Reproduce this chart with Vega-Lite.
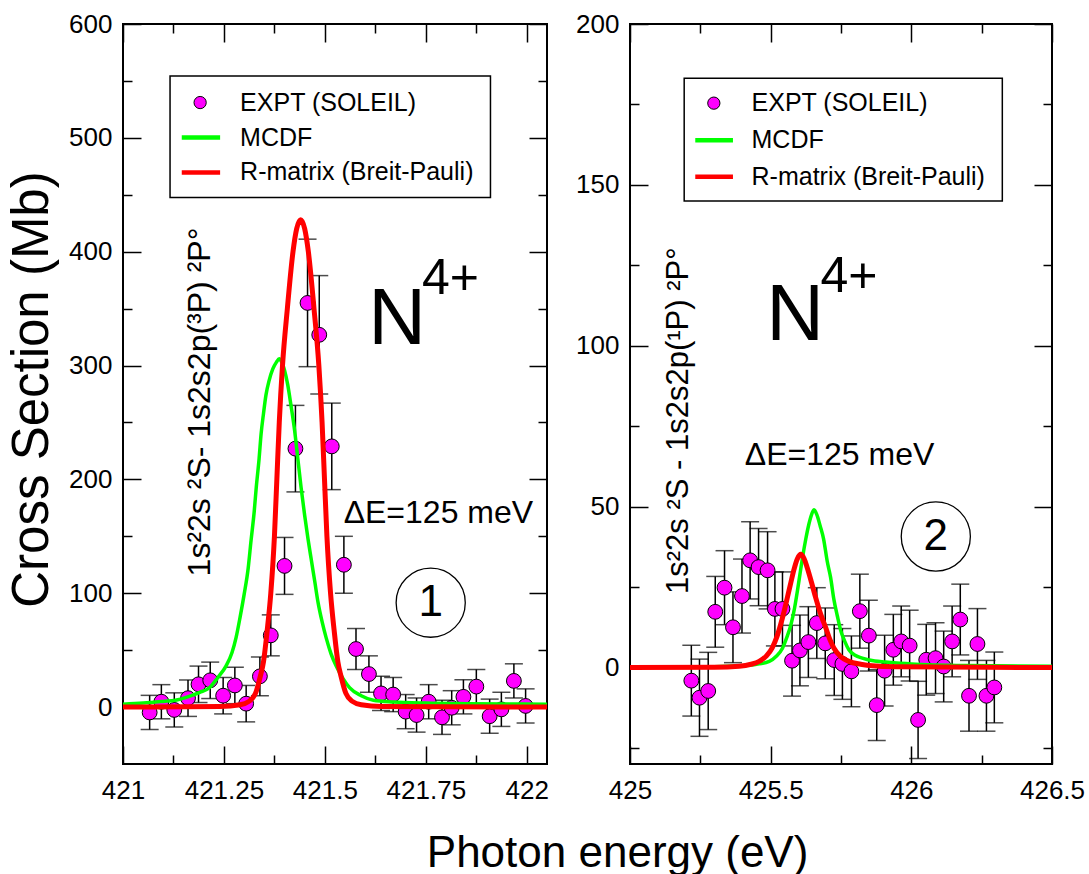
{
  "$schema": "https://vega.github.io/schema/vega-lite/v6.json",
  "padding": {"left": 5, "top": 10, "right": 5, "bottom": 5},
  "background": "white",
  "config": {
    "view": {"stroke": "black", "strokeWidth": 2},
    "font": "Liberation Sans",
    "axis": {"labelFont": "Liberation Sans", "labelFontSize": 26, "labelColor": "black", "tickColor": "black", "tickWidth": 1.5, "grid": false, "domain": false, "labelFlush": false, "titleFont": "Liberation Sans", "titleFontWeight": "normal", "titleColor": "black", "labelOverlap": false},
    "text": {"font": "Liberation Sans", "color": "black"},
    "title": {"font": "Liberation Sans", "fontWeight": "normal", "color": "black"}
  },
  "title": {"text": "Photon energy (eV)", "orient": "bottom", "anchor": "middle", "fontSize": 44, "offset": 28, "dx": 72},
  "datasets": {
    "Lx": [
      {"e": 421.066, "y": -4.7, "lo": -19.7, "hi": 10.3},
      {"e": 421.095, "y": 4.7, "lo": -10.3, "hi": 19.7},
      {"e": 421.127, "y": -2.5, "lo": -17.5, "hi": 12.5},
      {"e": 421.161, "y": 7.8, "lo": -8.2, "hi": 23.8},
      {"e": 421.187, "y": 20, "lo": 4, "hi": 36},
      {"e": 421.216, "y": 23.5, "lo": 7.5, "hi": 39.5},
      {"e": 421.248, "y": 10, "lo": -6, "hi": 26},
      {"e": 421.277, "y": 19, "lo": 3, "hi": 35},
      {"e": 421.305, "y": 3, "lo": -13, "hi": 19},
      {"e": 421.339, "y": 27, "lo": 10, "hi": 44},
      {"e": 421.366, "y": 63, "lo": 45, "hi": 81},
      {"e": 421.4, "y": 124, "lo": 99, "hi": 149},
      {"e": 421.427, "y": 227, "lo": 189, "hi": 265},
      {"e": 421.457, "y": 355, "lo": 299, "hi": 411},
      {"e": 421.486, "y": 327, "lo": 275, "hi": 379},
      {"e": 421.517, "y": 229, "lo": 191, "hi": 267},
      {"e": 421.547, "y": 125, "lo": 100, "hi": 150},
      {"e": 421.577, "y": 51, "lo": 33, "hi": 69},
      {"e": 421.609, "y": 29, "lo": 13, "hi": 45},
      {"e": 421.639, "y": 12, "lo": -3, "hi": 27},
      {"e": 421.669, "y": 11, "lo": -4, "hi": 26},
      {"e": 421.7, "y": -4, "lo": -19, "hi": 11},
      {"e": 421.727, "y": -7, "lo": -22, "hi": 8},
      {"e": 421.757, "y": 4.7, "lo": -10.3, "hi": 19.7},
      {"e": 421.79, "y": -9, "lo": -24, "hi": 6},
      {"e": 421.814, "y": -0.6, "lo": -15.6, "hi": 14.4},
      {"e": 421.843, "y": 9, "lo": -6, "hi": 24},
      {"e": 421.875, "y": 18, "lo": 3, "hi": 33},
      {"e": 421.908, "y": -8, "lo": -23, "hi": 7},
      {"e": 421.937, "y": -2, "lo": -17, "hi": 13},
      {"e": 421.968, "y": 23, "lo": 8, "hi": 38},
      {"e": 421.997, "y": 1, "lo": -14, "hi": 16}
    ],
    "Lg": [
      {"e": 421.0, "y": 2.5}, {"e": 421.05, "y": 3.5}, {"e": 421.1, "y": 5}, {"e": 421.13, "y": 6},
      {"e": 421.16, "y": 9}, {"e": 421.19, "y": 13}, {"e": 421.214, "y": 17}, {"e": 421.235, "y": 26},
      {"e": 421.255, "y": 36}, {"e": 421.27, "y": 48}, {"e": 421.28, "y": 61}, {"e": 421.29, "y": 79},
      {"e": 421.3, "y": 99}, {"e": 421.31, "y": 122}, {"e": 421.317, "y": 146}, {"e": 421.325, "y": 172},
      {"e": 421.33, "y": 193}, {"e": 421.337, "y": 218}, {"e": 421.342, "y": 240}, {"e": 421.348, "y": 258},
      {"e": 421.354, "y": 274}, {"e": 421.362, "y": 287}, {"e": 421.371, "y": 297}, {"e": 421.38, "y": 303},
      {"e": 421.387, "y": 306}, {"e": 421.393, "y": 303}, {"e": 421.4, "y": 296}, {"e": 421.408, "y": 283},
      {"e": 421.416, "y": 265}, {"e": 421.425, "y": 243}, {"e": 421.433, "y": 218}, {"e": 421.441, "y": 193},
      {"e": 421.45, "y": 168}, {"e": 421.458, "y": 148}, {"e": 421.466, "y": 130}, {"e": 421.475, "y": 110},
      {"e": 421.483, "y": 92}, {"e": 421.493, "y": 75}, {"e": 421.503, "y": 61}, {"e": 421.515, "y": 47},
      {"e": 421.528, "y": 36}, {"e": 421.545, "y": 25}, {"e": 421.561, "y": 17}, {"e": 421.59, "y": 10},
      {"e": 421.62, "y": 6}, {"e": 421.67, "y": 4.5}, {"e": 421.75, "y": 3.5}, {"e": 421.85, "y": 3},
      {"e": 422.05, "y": 2.5}
    ],
    "Lr": [
      {"e": 421.0, "y": 0}, {"e": 421.24, "y": 0.5}, {"e": 421.29, "y": 2}, {"e": 421.312, "y": 5},
      {"e": 421.328, "y": 12}, {"e": 421.34, "y": 27}, {"e": 421.348, "y": 40}, {"e": 421.357, "y": 67},
      {"e": 421.366, "y": 100}, {"e": 421.375, "y": 150}, {"e": 421.381, "y": 200}, {"e": 421.387, "y": 250},
      {"e": 421.395, "y": 300}, {"e": 421.407, "y": 350}, {"e": 421.421, "y": 400}, {"e": 421.43, "y": 420},
      {"e": 421.44, "y": 428}, {"e": 421.45, "y": 420}, {"e": 421.459, "y": 400}, {"e": 421.473, "y": 350},
      {"e": 421.485, "y": 300}, {"e": 421.493, "y": 250}, {"e": 421.499, "y": 200}, {"e": 421.505, "y": 150},
      {"e": 421.514, "y": 100}, {"e": 421.523, "y": 67}, {"e": 421.532, "y": 40}, {"e": 421.54, "y": 27},
      {"e": 421.552, "y": 12}, {"e": 421.568, "y": 5}, {"e": 421.59, "y": 2}, {"e": 421.64, "y": 0.5},
      {"e": 422.05, "y": 0}
    ],
    "Rx": [
      {"e": 425.218, "y": -4.1, "lo": -15.1, "hi": 6.9},
      {"e": 425.247, "y": -9.4, "lo": -21.4, "hi": 2.6},
      {"e": 425.278, "y": -7.3, "lo": -19.3, "hi": 4.7},
      {"e": 425.303, "y": 17.3, "lo": 6.3, "hi": 28.3},
      {"e": 425.336, "y": 24.8, "lo": 13.3, "hi": 36.3},
      {"e": 425.366, "y": 12.5, "lo": 1.5, "hi": 23.5},
      {"e": 425.398, "y": 22.2, "lo": 10.7, "hi": 33.7},
      {"e": 425.427, "y": 33.3, "lo": 21.3, "hi": 45.3},
      {"e": 425.457, "y": 31.2, "lo": 19.2, "hi": 43.2},
      {"e": 425.489, "y": 30.2, "lo": 18.2, "hi": 42.2},
      {"e": 425.515, "y": 18.2, "lo": 6.7, "hi": 29.7},
      {"e": 425.542, "y": 18.2, "lo": 6.7, "hi": 29.7},
      {"e": 425.576, "y": 2.1, "lo": -8.9, "hi": 13.1},
      {"e": 425.604, "y": 5.3, "lo": -5.7, "hi": 16.3},
      {"e": 425.634, "y": 7.9, "lo": -3.1, "hi": 18.9},
      {"e": 425.664, "y": 13.8, "lo": 2.8, "hi": 24.8},
      {"e": 425.694, "y": 7.5, "lo": -3.5, "hi": 18.5},
      {"e": 425.726, "y": 2.3, "lo": -8.7, "hi": 13.3},
      {"e": 425.755, "y": 1.1, "lo": -9.9, "hi": 12.1},
      {"e": 425.787, "y": -1.2, "lo": -12.2, "hi": 9.8},
      {"e": 425.817, "y": 17.5, "lo": 6, "hi": 29},
      {"e": 425.849, "y": 9.9, "lo": -1.1, "hi": 20.9},
      {"e": 425.877, "y": -11.7, "lo": -22.7, "hi": -0.7},
      {"e": 425.905, "y": -1.0, "lo": -12, "hi": 10},
      {"e": 425.936, "y": 5.5, "lo": -5.5, "hi": 16.5},
      {"e": 425.964, "y": 8.1, "lo": -2.9, "hi": 19.1},
      {"e": 425.994, "y": 6.8, "lo": -4.2, "hi": 17.8},
      {"e": 426.024, "y": -16.3, "lo": -28.3, "hi": -4.3},
      {"e": 426.053, "y": 2.4, "lo": -8.6, "hi": 13.4},
      {"e": 426.086, "y": 2.9, "lo": -8.1, "hi": 13.9},
      {"e": 426.115, "y": 0.3, "lo": -10.7, "hi": 11.3},
      {"e": 426.145, "y": 8.1, "lo": -2.9, "hi": 19.1},
      {"e": 426.174, "y": 14.9, "lo": 3.9, "hi": 25.9},
      {"e": 426.205, "y": -8.8, "lo": -19.8, "hi": 2.2},
      {"e": 426.235, "y": 7.3, "lo": -3.7, "hi": 18.3},
      {"e": 426.267, "y": -8.8, "lo": -19.8, "hi": 2.2},
      {"e": 426.295, "y": -6.2, "lo": -17.2, "hi": 4.8}
    ],
    "Rg": [
      {"e": 425.0, "y": 0}, {"e": 425.3, "y": 0.2}, {"e": 425.388, "y": 0.5}, {"e": 425.45, "y": 1},
      {"e": 425.495, "y": 1.9}, {"e": 425.52, "y": 3.5}, {"e": 425.542, "y": 6}, {"e": 425.558, "y": 9.5},
      {"e": 425.572, "y": 13.3}, {"e": 425.585, "y": 18.5}, {"e": 425.595, "y": 23.75}, {"e": 425.605, "y": 29.5},
      {"e": 425.613, "y": 34}, {"e": 425.625, "y": 40}, {"e": 425.636, "y": 44.6}, {"e": 425.646, "y": 47.7},
      {"e": 425.654, "y": 49}, {"e": 425.664, "y": 47.5}, {"e": 425.676, "y": 44}, {"e": 425.688, "y": 40},
      {"e": 425.701, "y": 33}, {"e": 425.713, "y": 28}, {"e": 425.725, "y": 21}, {"e": 425.737, "y": 16},
      {"e": 425.749, "y": 11.5}, {"e": 425.763, "y": 8.2}, {"e": 425.778, "y": 5.5}, {"e": 425.8, "y": 3.8},
      {"e": 425.8255, "y": 2.9}, {"e": 425.87, "y": 2}, {"e": 425.9085, "y": 1.7}, {"e": 426.0, "y": 1.1},
      {"e": 426.2, "y": 0.6}, {"e": 426.5, "y": 0.4}
    ],
    "Rr": [
      {"e": 425.0, "y": 0}, {"e": 425.3, "y": 0.1}, {"e": 425.388, "y": 0.4}, {"e": 425.43, "y": 1},
      {"e": 425.459, "y": 1.9}, {"e": 425.485, "y": 3.6}, {"e": 425.506, "y": 6.2}, {"e": 425.522, "y": 9.5},
      {"e": 425.536, "y": 13.5}, {"e": 425.548, "y": 17.5}, {"e": 425.56, "y": 22}, {"e": 425.572, "y": 26.5},
      {"e": 425.583, "y": 30.5}, {"e": 425.595, "y": 33.8}, {"e": 425.607, "y": 35.2}, {"e": 425.619, "y": 33.8},
      {"e": 425.63, "y": 31}, {"e": 425.645, "y": 26.5}, {"e": 425.66, "y": 21.7}, {"e": 425.678, "y": 16.5},
      {"e": 425.696, "y": 12.3}, {"e": 425.71, "y": 8.8}, {"e": 425.725, "y": 6}, {"e": 425.75, "y": 3.3},
      {"e": 425.778, "y": 1.9}, {"e": 425.82, "y": 1}, {"e": 425.849, "y": 0.6}, {"e": 425.95, "y": 0.2},
      {"e": 426.5, "y": 0}
    ]
  },
  "hconcat": [
    {
      "width": 424,
      "height": 740,
      "resolve": {"axis": {"x": "independent", "y": "independent"}},
      "layer": [
        {
          "data": {"name": "Lx"},
          "mark": {"type": "rule", "color": "black", "strokeWidth": 1.5},
          "encoding": {
            "x": {"field": "e", "type": "quantitative", "scale": {"domain": [421, 422.05], "nice": false, "zero": false},
                  "axis": {"orient": "bottom", "values": [421, 421.25, 421.5, 421.75, 422], "format": ".6~g", "tickSize": 18, "offset": -18, "labelPadding": 13, "title": null}},
            "y": {"field": "lo", "type": "quantitative", "scale": {"domain": [-50, 600], "nice": false, "zero": false},
                  "axis": {"orient": "left", "values": [0, 100, 200, 300, 400, 500, 600], "format": "d", "tickSize": 18, "offset": -18, "labelPadding": 11, "title": "Cross Section (Mb)", "titleFontSize": 51, "titlePadding": 10, "titleY": 365}},
            "y2": {"field": "hi"}
          }
        },
        {
          "data": {"name": "Lx"},
          "mark": {"type": "tick", "orient": "horizontal", "size": 18, "thickness": 1.5, "color": "black"},
          "encoding": {
            "x": {"field": "e", "type": "quantitative", "axis": null},
            "y": {"field": "lo", "type": "quantitative", "axis": null}
          }
        },
        {
          "data": {"name": "Lx"},
          "mark": {"type": "tick", "orient": "horizontal", "size": 18, "thickness": 1.5, "color": "black"},
          "encoding": {
            "x": {"field": "e", "type": "quantitative", "axis": null},
            "y": {"field": "hi", "type": "quantitative", "axis": null}
          }
        },
        {
          "data": {"name": "Lx"},
          "mark": {"type": "point", "shape": "circle", "filled": true, "fill": "#ff00ff", "stroke": "black", "strokeWidth": 1, "size": 220, "opacity": 1},
          "encoding": {
            "x": {"field": "e", "type": "quantitative",
                  "axis": {"orient": "top", "values": [421, 421.25, 421.5, 421.75, 422], "labels": false, "tickSize": 18, "offset": -18, "title": null}},
            "y": {"field": "y", "type": "quantitative",
                  "axis": {"orient": "right", "values": [0, 100, 200, 300, 400, 500, 600], "labels": false, "tickSize": 18, "offset": -18, "title": null}}
          }
        },
        {
          "data": {"name": "Lg"},
          "mark": {"type": "line", "color": "#00ff00", "strokeWidth": 3.5, "interpolate": "monotone"},
          "encoding": {
            "x": {"field": "e", "type": "quantitative",
                  "axis": {"orient": "bottom", "values": [421.125, 421.375, 421.625, 421.875], "labels": false, "tickSize": 9, "offset": -9, "title": null}},
            "y": {"field": "y", "type": "quantitative",
                  "axis": {"orient": "left", "values": [50, 150, 250, 350, 450, 550], "labels": false, "tickSize": 9, "offset": -9, "title": null}}
          }
        },
        {
          "data": {"name": "Lr"},
          "mark": {"type": "line", "color": "#ff0000", "strokeWidth": 5, "interpolate": "monotone"},
          "encoding": {
            "x": {"field": "e", "type": "quantitative",
                  "axis": {"orient": "top", "values": [421.125, 421.375, 421.625, 421.875], "labels": false, "tickSize": 9, "offset": -9, "title": null}},
            "y": {"field": "y", "type": "quantitative",
                  "axis": {"orient": "right", "values": [50, 150, 250, 350, 450, 550], "labels": false, "tickSize": 9, "offset": -9, "title": null}}
          }
        },
        {
          "data": {"values": [{"a": 421.1165, "b": 421.91, "c": 447.6, "d": 554.4}]},
          "mark": {"type": "rect", "fill": "white", "stroke": "black", "strokeWidth": 1.5},
          "encoding": {
            "x": {"field": "a", "type": "quantitative", "axis": null}, "x2": {"field": "b"},
            "y": {"field": "c", "type": "quantitative", "axis": null}, "y2": {"field": "d"}
          }
        },
        {
          "data": {"values": [{"e": 421.191, "y": 531}]},
          "mark": {"type": "point", "shape": "circle", "filled": true, "fill": "#ff00ff", "stroke": "black", "strokeWidth": 1, "size": 150, "opacity": 1},
          "encoding": {"x": {"field": "e", "type": "quantitative", "axis": null}, "y": {"field": "y", "type": "quantitative", "axis": null}}
        },
        {
          "data": {"values": [{"a": 421.1455, "b": 421.2405, "y": 500.3}]},
          "mark": {"type": "rule", "color": "#00ff00", "strokeWidth": 4.5},
          "encoding": {"x": {"field": "a", "type": "quantitative", "axis": null}, "x2": {"field": "b"}, "y": {"field": "y", "type": "quantitative", "axis": null}}
        },
        {
          "data": {"values": [{"a": 421.1455, "b": 421.2405, "y": 469.6}]},
          "mark": {"type": "rule", "color": "#ff0000", "strokeWidth": 4.5},
          "encoding": {"x": {"field": "a", "type": "quantitative", "axis": null}, "x2": {"field": "b"}, "y": {"field": "y", "type": "quantitative", "axis": null}}
        },
        {
          "data": {"values": [
            {"e": 421.29, "y": 531, "t": "EXPT (SOLEIL)"},
            {"e": 421.29, "y": 500.3, "t": "MCDF"},
            {"e": 421.29, "y": 469.6, "t": "R-matrix (Breit-Pauli)"}
          ]},
          "mark": {"type": "text", "align": "left", "baseline": "middle", "fontSize": 25},
          "encoding": {"x": {"field": "e", "type": "quantitative", "axis": null}, "y": {"field": "y", "type": "quantitative", "axis": null}, "text": {"field": "t"}}
        },
        {
          "data": {"values": [{"e": 421.679, "y": 319, "t": "N"}]},
          "mark": {"type": "text", "align": "center", "baseline": "alphabetic", "fontSize": 80},
          "encoding": {"x": {"field": "e", "type": "quantitative", "axis": null}, "y": {"field": "y", "type": "quantitative", "axis": null}, "text": {"field": "t"}}
        },
        {
          "data": {"values": [{"e": 421.811, "y": 363, "t": "4+"}]},
          "mark": {"type": "text", "align": "center", "baseline": "alphabetic", "fontSize": 50},
          "encoding": {"x": {"field": "e", "type": "quantitative", "axis": null}, "y": {"field": "y", "type": "quantitative", "axis": null}, "text": {"field": "t"}}
        },
        {
          "data": {"values": [{"e": 421.781, "y": 162, "t": "ΔE=125 meV"}]},
          "mark": {"type": "text", "align": "center", "baseline": "alphabetic", "fontSize": 32},
          "encoding": {"x": {"field": "e", "type": "quantitative", "axis": null}, "y": {"field": "y", "type": "quantitative", "axis": null}, "text": {"field": "t"}}
        },
        {
          "data": {"values": [{"e": 421.762, "y": 91.7}]},
          "mark": {"type": "point", "shape": "circle", "filled": false, "stroke": "black", "strokeWidth": 1.3, "size": 4780, "opacity": 1},
          "encoding": {"x": {"field": "e", "type": "quantitative", "axis": null}, "y": {"field": "y", "type": "quantitative", "axis": null}}
        },
        {
          "data": {"values": [{"e": 421.762, "y": 91.7, "t": "1"}]},
          "mark": {"type": "text", "align": "center", "baseline": "middle", "fontSize": 44},
          "encoding": {"x": {"field": "e", "type": "quantitative", "axis": null}, "y": {"field": "y", "type": "quantitative", "axis": null}, "text": {"field": "t"}}
        },
        {
          "data": {"values": [{"e": 421.215, "y": 268, "t": "1s²2s ²S- 1s2s2p(³P) ²P°"}]},
          "mark": {"type": "text", "align": "center", "baseline": "alphabetic", "angle": 270, "fontSize": 32},
          "encoding": {"x": {"field": "e", "type": "quantitative", "axis": null}, "y": {"field": "y", "type": "quantitative", "axis": null}, "text": {"field": "t"}}
        }
      ]
    },
    {
      "width": 422,
      "height": 740,
      "resolve": {"axis": {"x": "independent", "y": "independent"}},
      "layer": [
        {
          "data": {"name": "Rx"},
          "mark": {"type": "rule", "color": "black", "strokeWidth": 1.5},
          "encoding": {
            "x": {"field": "e", "type": "quantitative", "scale": {"domain": [425, 426.5], "nice": false, "zero": false},
                  "axis": {"orient": "bottom", "values": [425, 425.5, 426, 426.5], "format": ".6~g", "tickSize": 18, "offset": -18, "labelPadding": 13, "title": null}},
            "y": {"field": "lo", "type": "quantitative", "scale": {"domain": [-30, 200], "nice": false, "zero": false},
                  "axis": {"orient": "left", "values": [0, 50, 100, 150, 200], "format": "d", "tickSize": 18, "offset": -18, "labelPadding": 11, "title": null}},
            "y2": {"field": "hi"}
          }
        },
        {
          "data": {"name": "Rx"},
          "mark": {"type": "tick", "orient": "horizontal", "size": 18, "thickness": 1.5, "color": "black"},
          "encoding": {
            "x": {"field": "e", "type": "quantitative", "axis": null},
            "y": {"field": "lo", "type": "quantitative", "axis": null}
          }
        },
        {
          "data": {"name": "Rx"},
          "mark": {"type": "tick", "orient": "horizontal", "size": 18, "thickness": 1.5, "color": "black"},
          "encoding": {
            "x": {"field": "e", "type": "quantitative", "axis": null},
            "y": {"field": "hi", "type": "quantitative", "axis": null}
          }
        },
        {
          "data": {"name": "Rx"},
          "mark": {"type": "point", "shape": "circle", "filled": true, "fill": "#ff00ff", "stroke": "black", "strokeWidth": 1, "size": 220, "opacity": 1},
          "encoding": {
            "x": {"field": "e", "type": "quantitative",
                  "axis": {"orient": "top", "values": [425, 425.5, 426, 426.5], "labels": false, "tickSize": 18, "offset": -18, "title": null}},
            "y": {"field": "y", "type": "quantitative",
                  "axis": {"orient": "right", "values": [0, 50, 100, 150, 200], "labels": false, "tickSize": 18, "offset": -18, "title": null}}
          }
        },
        {
          "data": {"name": "Rg"},
          "mark": {"type": "line", "color": "#00ff00", "strokeWidth": 3.5, "interpolate": "monotone"},
          "encoding": {
            "x": {"field": "e", "type": "quantitative",
                  "axis": {"orient": "bottom", "values": [425.25, 425.75, 426.25], "labels": false, "tickSize": 9, "offset": -9, "title": null}},
            "y": {"field": "y", "type": "quantitative",
                  "axis": {"orient": "left", "values": [-25, 25, 75, 125, 175], "labels": false, "tickSize": 9, "offset": -9, "title": null}}
          }
        },
        {
          "data": {"name": "Rr"},
          "mark": {"type": "line", "color": "#ff0000", "strokeWidth": 5, "interpolate": "monotone"},
          "encoding": {
            "x": {"field": "e", "type": "quantitative",
                  "axis": {"orient": "top", "values": [425.25, 425.75, 426.25], "labels": false, "tickSize": 9, "offset": -9, "title": null}},
            "y": {"field": "y", "type": "quantitative",
                  "axis": {"orient": "right", "values": [-25, 25, 75, 125, 175], "labels": false, "tickSize": 9, "offset": -9, "title": null}}
          }
        },
        {
          "data": {"values": [{"a": 425.1926, "b": 426.3234, "c": 145.0, "d": 183.1}]},
          "mark": {"type": "rect", "fill": "white", "stroke": "black", "strokeWidth": 1.5},
          "encoding": {
            "x": {"field": "a", "type": "quantitative", "axis": null}, "x2": {"field": "b"},
            "y": {"field": "c", "type": "quantitative", "axis": null}, "y2": {"field": "d"}
          }
        },
        {
          "data": {"values": [{"e": 425.298, "y": 175.4}]},
          "mark": {"type": "point", "shape": "circle", "filled": true, "fill": "#ff00ff", "stroke": "black", "strokeWidth": 1, "size": 150, "opacity": 1},
          "encoding": {"x": {"field": "e", "type": "quantitative", "axis": null}, "y": {"field": "y", "type": "quantitative", "axis": null}}
        },
        {
          "data": {"values": [{"a": 425.232, "b": 425.366, "y": 163.9}]},
          "mark": {"type": "rule", "color": "#00ff00", "strokeWidth": 4.5},
          "encoding": {"x": {"field": "a", "type": "quantitative", "axis": null}, "x2": {"field": "b"}, "y": {"field": "y", "type": "quantitative", "axis": null}}
        },
        {
          "data": {"values": [{"a": 425.232, "b": 425.366, "y": 152.5}]},
          "mark": {"type": "rule", "color": "#ff0000", "strokeWidth": 4.5},
          "encoding": {"x": {"field": "a", "type": "quantitative", "axis": null}, "x2": {"field": "b"}, "y": {"field": "y", "type": "quantitative", "axis": null}}
        },
        {
          "data": {"values": [
            {"e": 425.432, "y": 175.4, "t": "EXPT (SOLEIL)"},
            {"e": 425.432, "y": 163.9, "t": "MCDF"},
            {"e": 425.432, "y": 152.5, "t": "R-matrix (Breit-Pauli)"}
          ]},
          "mark": {"type": "text", "align": "left", "baseline": "middle", "fontSize": 25},
          "encoding": {"x": {"field": "e", "type": "quantitative", "axis": null}, "y": {"field": "y", "type": "quantitative", "axis": null}, "text": {"field": "t"}}
        },
        {
          "data": {"values": [{"e": 425.587, "y": 101.9, "t": "N"}]},
          "mark": {"type": "text", "align": "center", "baseline": "alphabetic", "fontSize": 80},
          "encoding": {"x": {"field": "e", "type": "quantitative", "axis": null}, "y": {"field": "y", "type": "quantitative", "axis": null}, "text": {"field": "t"}}
        },
        {
          "data": {"values": [{"e": 425.778, "y": 116.8, "t": "4+"}]},
          "mark": {"type": "text", "align": "center", "baseline": "alphabetic", "fontSize": 50},
          "encoding": {"x": {"field": "e", "type": "quantitative", "axis": null}, "y": {"field": "y", "type": "quantitative", "axis": null}, "text": {"field": "t"}}
        },
        {
          "data": {"values": [{"e": 425.745, "y": 63, "t": "ΔE=125 meV"}]},
          "mark": {"type": "text", "align": "center", "baseline": "alphabetic", "fontSize": 32},
          "encoding": {"x": {"field": "e", "type": "quantitative", "axis": null}, "y": {"field": "y", "type": "quantitative", "axis": null}, "text": {"field": "t"}}
        },
        {
          "data": {"values": [{"e": 426.087, "y": 40.7}]},
          "mark": {"type": "point", "shape": "circle", "filled": false, "stroke": "black", "strokeWidth": 1.3, "size": 4780, "opacity": 1},
          "encoding": {"x": {"field": "e", "type": "quantitative", "axis": null}, "y": {"field": "y", "type": "quantitative", "axis": null}}
        },
        {
          "data": {"values": [{"e": 426.087, "y": 40.7, "t": "2"}]},
          "mark": {"type": "text", "align": "center", "baseline": "middle", "fontSize": 44},
          "encoding": {"x": {"field": "e", "type": "quantitative", "axis": null}, "y": {"field": "y", "type": "quantitative", "axis": null}, "text": {"field": "t"}}
        },
        {
          "data": {"values": [{"e": 425.207, "y": 76.7, "t": "1s²2s ²S - 1s2s2p(¹P) ²P°"}]},
          "mark": {"type": "text", "align": "center", "baseline": "alphabetic", "angle": 270, "fontSize": 31},
          "encoding": {"x": {"field": "e", "type": "quantitative", "axis": null}, "y": {"field": "y", "type": "quantitative", "axis": null}, "text": {"field": "t"}}
        }
      ]
    }
  ],
  "spacing": 16
}
